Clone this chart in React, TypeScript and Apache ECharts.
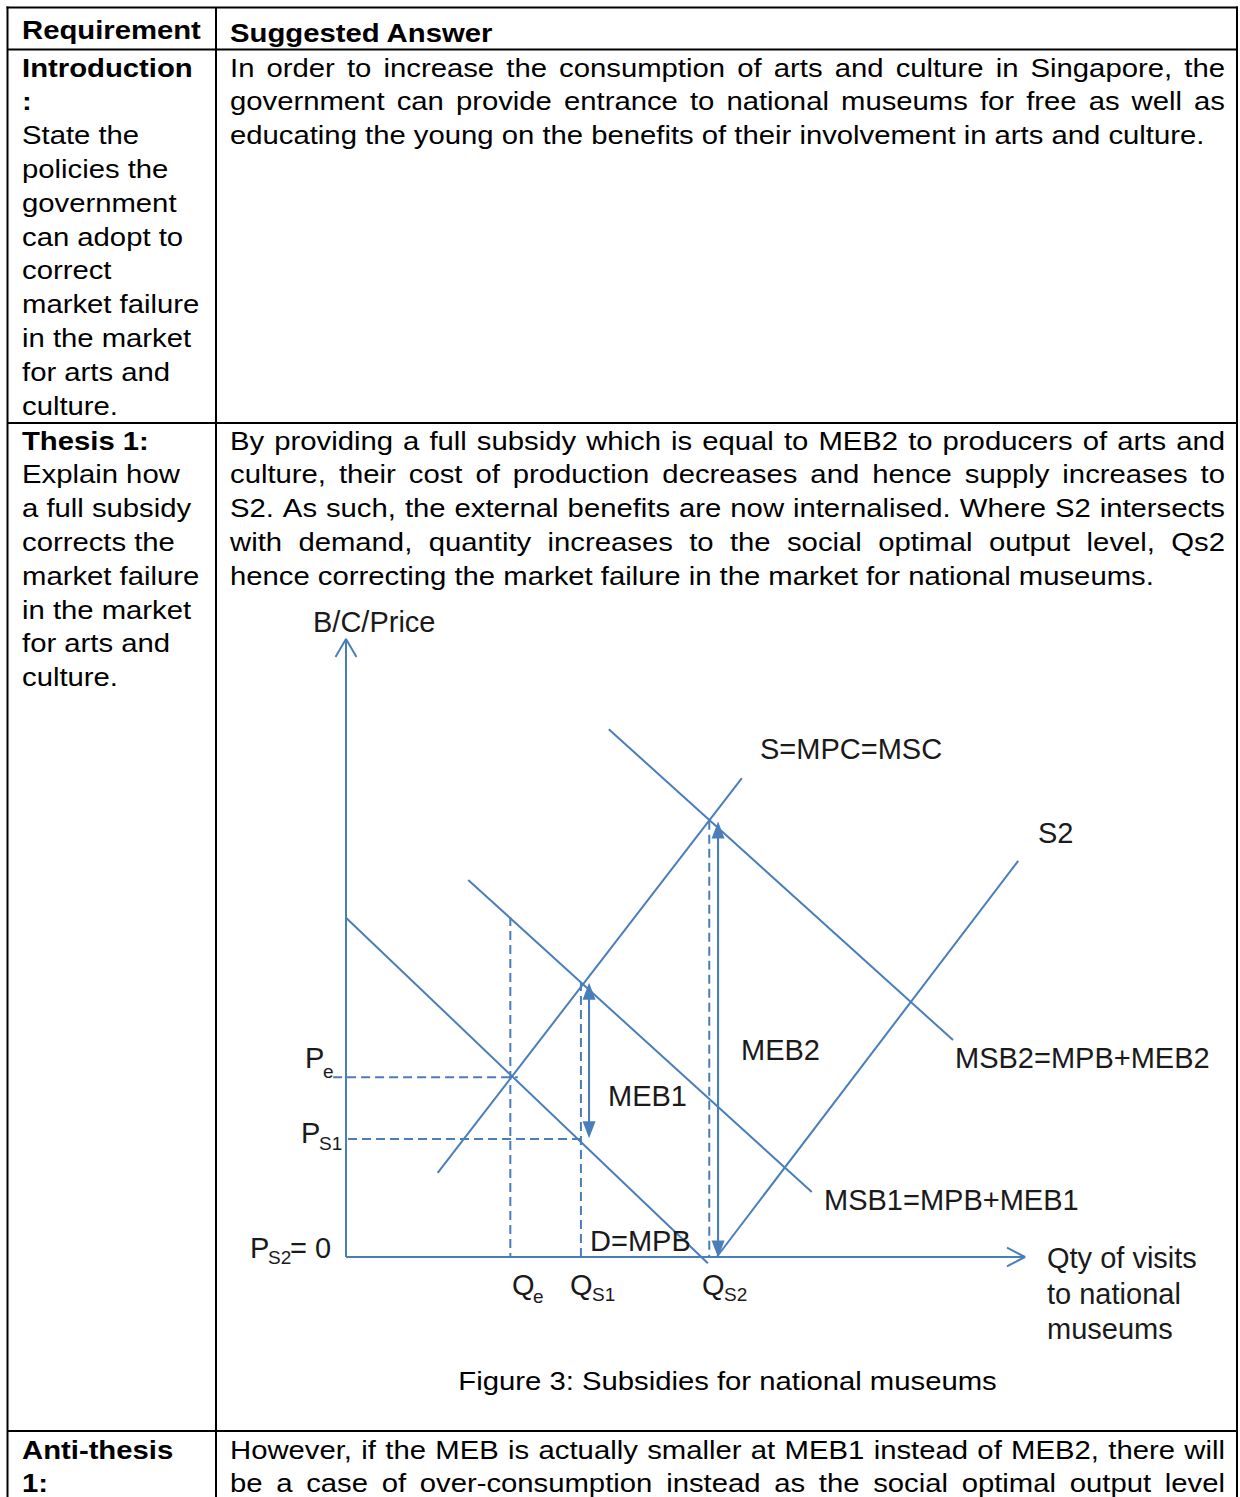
import React, { useEffect, useRef } from "react";
import * as echarts from "echarts";

const BLUE = "#4a7ebb";
const INK = "#000000";
const LABEL_INK = "#1a1a1a";
const FONT = '"Liberation Sans", Arial, Helvetica, sans-serif';

// ---------- diagram data (x: quantity, y: B/C/Price, both on a 0-100 scale) ----------
const quantityAxis = [[0, 0], [100, 0]];
const priceAxis = [[0, 0], [0, 100]];
const demandMPB = [[0, 54.9], [53.3, -1.0]];
const supplyS = [[13.5, 13.6], [58.3, 77.5]];
const supplyS2 = [[54.6, 0], [99.0, 64.1]];
const msb1 = [[18.0, 61.0], [68.6, 10.5]];
const msb2 = [[38.7, 85.4], [89.4, 35.1]];
const qeGuide = [[24.2, 55.0], [24.2, 0]];
const qs1Guide = [[34.6, 44.5], [34.6, 0]];
const qs2Guide = [[53.5, 70.6], [53.5, 0]];
const peGuide = [[-1.9, 29.1], [25.3, 29.1]];
const ps1Guide = [[0.3, 19.1], [34.6, 19.1]];
const meb1Arrow = [[35.8, 43.0], [35.8, 20.6]];
const meb2Arrow = [[54.8, 69.1], [54.8, 1.3]];
const yAxisHead = [[-1.55, 97.1], [0, 100], [1.55, 97.1]];
const xAxisHead = [[97.35, 1.5], [100, 0], [97.35, -1.5]];

// ---------- table text ----------
const headerCells = ["Requirement", "Suggested Answer"];
const introLabel = [
  "Introduction", ":", "State the", "policies the", "government", "can adopt to",
  "correct", "market failure", "in the market", "for arts and", "culture.",
];
const introAnswer = [
  "In order to increase the consumption of arts and culture in Singapore, the",
  "government can provide entrance to national museums for free as well as",
  "educating the young on the benefits of their involvement in arts and culture.",
];
const thesisLabel = [
  "Thesis 1:", "Explain how", "a full subsidy", "corrects the", "market failure",
  "in the market", "for arts and", "culture.",
];
const thesisAnswer = [
  "By providing a full subsidy which is equal to MEB2 to producers of arts and",
  "culture, their cost of production decreases and hence supply increases to",
  "S2. As such, the external benefits are now internalised. Where S2 intersects",
  "with demand, quantity increases to the social optimal output level, Qs2",
  "hence correcting the market failure in the market for national museums.",
];
const antiLabel = ["Anti-thesis", "1:"];
const antiAnswer = [
  "However, if the MEB is actually smaller at MEB1 instead of MEB2, there will",
  "be a case of over-consumption instead as the social optimal output level",
];
const figureCaption = "Figure 3: Subsidies for national museums";
const priceAxisTitle = "B/C/Price";
const qtyAxisTitle = ["Qty of visits", "to national", "museums"];

export default function App() {
  const ref = useRef<HTMLDivElement>(null);

  useEffect(() => {
    const el = ref.current!;
    const chart = echarts.init(el, null, { renderer: "svg" });
    const ctx = document.createElement("canvas").getContext("2d")!;
    const measure = (t: string, size: number, weight: string) => {
      ctx.font = `${weight} ${size}px "Liberation Sans", Arial, sans-serif`;
      return ctx.measureText(t).width;
    };

    const g: any[] = [];
    const DOC = 26.5;
    const SX = 1.105;
    const LH = 33.8;
    const LBL = 29;

    const docText = (text: string, x: number, y: number, bold = false, align = "left") => {
      g.push({
        type: "text", x, y, scaleX: SX, silent: true, z: 10,
        style: {
          text, fontSize: DOC, fontFamily: FONT, fontWeight: bold ? "bold" : "normal",
          fill: INK, align, textAlign: align, verticalAlign: "middle", textVerticalAlign: "middle",
        },
      });
    };
    const justify = (text: string, y: number, x0: number, x1: number) => {
      const words = text.split(" ");
      const widths = words.map((w) => measure(w, DOC, "normal") * SX);
      const total = widths.reduce((a, b) => a + b, 0);
      const gap = (x1 - x0 - total) / (words.length - 1);
      let x = x0;
      words.forEach((w, i) => {
        docText(w, x, y);
        x += widths[i] + gap;
      });
    };
    const label = (text: string, x: number, y: number, size = LBL, align = "left") => {
      g.push({
        type: "text", x, y, silent: true, z: 10,
        style: {
          text, fontSize: size, fontFamily: FONT, fill: LABEL_INK,
          align, textAlign: align, verticalAlign: "middle", textVerticalAlign: "middle",
        },
      });
    };
    const hline = (y: number, x1: number, x2: number) =>
      g.push({ type: "line", silent: true, z: 5, shape: { x1, y1: y, x2, y2: y }, style: { stroke: INK, lineWidth: 2 } });
    const vline = (x: number, y1: number, y2: number) =>
      g.push({ type: "line", silent: true, z: 5, shape: { x1: x, y1, x2: x, y2 }, style: { stroke: INK, lineWidth: 2 } });

    // table grid
    const L = 7.5, C = 216, R = 1237, TX0 = 230, TX1 = 1225;
    hline(7.5, L - 1, R + 1);
    hline(49.5, L, R);
    hline(423, L, R);
    hline(1431, L, R);
    vline(L, 6.5, 1497);
    vline(C, 7.5, 1497);
    vline(R, 6.5, 1497);

    // header
    docText(headerCells[0], 22, 29.5, true);
    docText(headerCells[1], TX0, 32.5, true);

    const block = (labels: string[], boldCount: number, answer: string[], y0: number, lastIsEnd: boolean) => {
      labels.forEach((t, i) => docText(t, 22, y0 + i * LH, i < boldCount));
      answer.forEach((t, i) => {
        const y = y0 + i * LH;
        if (lastIsEnd && i === answer.length - 1) docText(t, TX0, y);
        else justify(t, y, TX0, TX1);
      });
    };
    block(introLabel, 2, introAnswer, 67.5, true);
    block(thesisLabel, 1, thesisAnswer, 440.5, true);
    block(antiLabel, 2, antiAnswer, 1449.5, false);

    docText(figureCaption, 727.5, 1381, false, "center");

    // diagram labels
    label(priceAxisTitle, 313, 622);
    label("S=MPC=MSC", 760, 749);
    label("S2", 1038, 833);
    label("MEB2", 741, 1050);
    label("MSB2=MPB+MEB2", 955, 1058);
    label("MEB1", 608, 1096);
    label("MSB1=MPB+MEB1", 824, 1200);
    label("D=MPB", 590, 1241);
    label("P", 305, 1058);
    label("e", 323, 1071, 19);
    label("P", 301, 1133);
    label("S1", 319, 1143, 19);
    label("P", 250, 1248);
    label("S2", 268, 1257, 19);
    label("= 0", 290, 1248);
    label("Q", 512, 1285);
    label("e", 533, 1296, 19);
    label("Q", 570, 1285);
    label("S1", 592, 1294, 19);
    label("Q", 702, 1285);
    label("S2", 724, 1294, 19);
    qtyAxisTitle.forEach((t, i) => label(t, 1047, 1258 + i * 35.5));

    const seg = (data: number[][], dashed = false) => ({
      type: "line", data, symbol: "none", showSymbol: false, clip: false, silent: true, z: 3,
      lineStyle: { color: BLUE, width: 2, type: dashed ? [9, 5] : "solid" },
    });
    const arrow = (data: number[][]) => ({
      type: "line", data, symbol: "none", showSymbol: false, clip: false, silent: true, z: 4,
      lineStyle: { color: BLUE, width: 2 },
      markLine: {
        silent: true, symbol: ["triangle", "triangle"], symbolSize: [13, 17],
        label: { show: false }, emphasis: { disabled: true },
        lineStyle: { color: BLUE, width: 2, type: "solid" },
        data: [[{ coord: data[0] }, { coord: data[1] }]],
      },
    });

    // scale: 1 x-unit = 6.79px, 1 y-unit = 6.18px; origin of the diagram at (346, 1257)
    const XU = 6.79, YU = 6.18, XMIN = -10, YMIN = -10;
    chart.setOption({
      animation: false,
      backgroundColor: "#ffffff",
      grid: {
        left: 346 + XMIN * XU, top: 1257 - 100 * YU,
        width: (100 - XMIN) * XU, height: (100 - YMIN) * YU, containLabel: false,
      },
      xAxis: {
        type: "value", min: XMIN, max: 100,
        axisLine: { show: false }, axisTick: { show: false }, axisLabel: { show: false }, splitLine: { show: false },
      },
      yAxis: {
        type: "value", min: YMIN, max: 100,
        axisLine: { show: false }, axisTick: { show: false }, axisLabel: { show: false }, splitLine: { show: false },
      },
      series: [
        seg(quantityAxis), seg(priceAxis), seg(yAxisHead), seg(xAxisHead),
        seg(demandMPB), seg(supplyS), seg(supplyS2), seg(msb1), seg(msb2),
        seg(qeGuide, true), seg(qs1Guide, true), seg(qs2Guide, true), seg(peGuide, true), seg(ps1Guide, true),
        arrow(meb1Arrow), arrow(meb2Arrow),
      ],
      graphic: g,
    });

    return () => chart.dispose();
  }, []);

  return (
    <div
      ref={ref}
      style={{ position: "absolute", left: 0, top: 0, width: 1240, height: 1497, background: "#fff" }}
    />
  );
}
